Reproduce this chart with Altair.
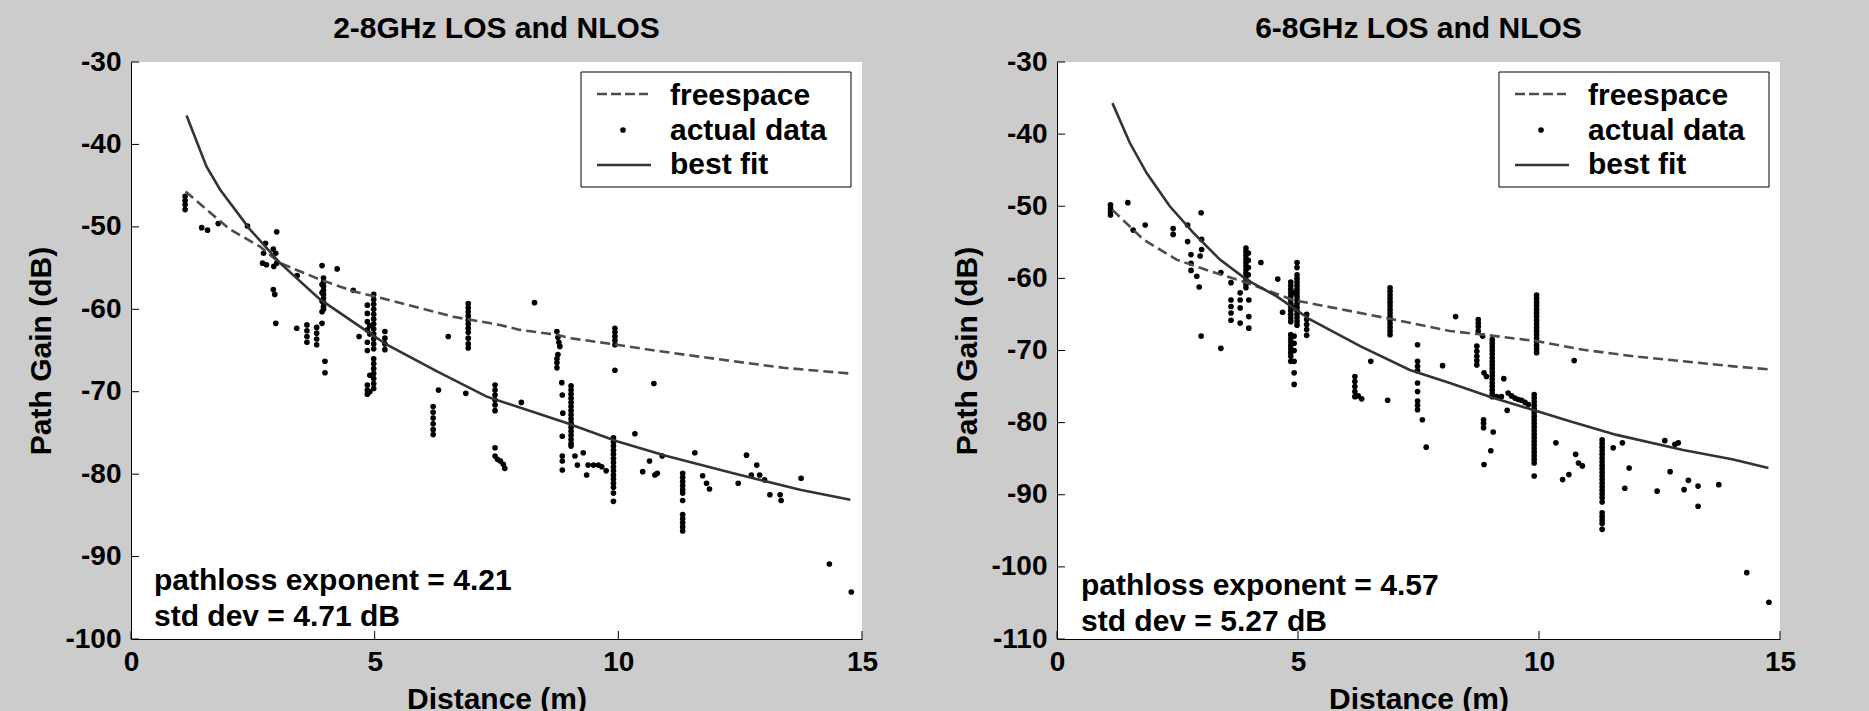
import altair as alt
import pandas as pd

FONT = "Liberation Sans"
BG = "#cccccc"

TITLES = ["2-8GHz LOS and NLOS", "6-8GHz LOS and NLOS"]
X_TITLE = "Distance (m)"
Y_TITLE = "Path Gain (dB)"
X_TICKS = [0, 5, 10, 15]
L_Y_TICKS = [-30, -40, -50, -60, -70, -80, -90, -100]
R_Y_TICKS = [-30, -40, -50, -60, -70, -80, -90, -100, -110]
LEGEND_LABELS = ["freespace", "actual data", "best fit"]
L_NOTES = ["pathloss exponent = 4.21", "std dev = 4.71 dB"]
R_NOTES = ["pathloss exponent = 4.57", "std dev = 5.27 dB"]

# ---- left panel (2-8 GHz) ----
L_FS_X = [1.12, 1.55, 2.03, 2.65, 3.06, 3.88, 4.56, 4.97, 6.61, 7.57, 7.98, 8.74, 9.01, 9.97, 10.86, 12.36, 13.39, 14.76]
L_FS_Y = [-45.7, -47.9, -50.3, -52.4, -54.4, -56.4, -57.8, -58.4, -60.9, -61.9, -62.5, -63.1, -63.5, -64.3, -65.1, -66.3, -67.1, -67.8]
L_BF_X = [1.14, 1.55, 1.83, 2.44, 3.06, 3.88, 4.70, 5.25, 6.27, 7.30, 8.94, 9.97, 10.99, 12.36, 13.73, 14.76]
L_BF_Y = [-36.5, -42.7, -45.5, -50.3, -54.4, -58.8, -62.1, -64.3, -67.5, -70.6, -73.8, -76.0, -77.8, -79.9, -81.9, -83.1]
L_POINTS = [
    (1.11, -46.3), (1.11, -46.8), (1.11, -47.3), (1.11, -47.9),
    (1.45, -50.1), (1.57, -50.4), (1.79, -49.6), (2.39, -49.9),
    (2.76, -52.0), (2.72, -53.2), (2.70, -54.4), (2.78, -54.6), (2.92, -52.7), (2.97, -53.2),
    (2.99, -50.6), (2.93, -54.8), (2.99, -54.4), (2.92, -57.6), (2.95, -58.2), (2.97, -61.7),
    (3.40, -62.3), (3.41, -55.9),
    (3.61, -61.9), (3.61, -62.6), (3.61, -63.3), (3.61, -64.0),
    (3.81, -62.2), (3.81, -62.9), (3.81, -63.6), (3.81, -64.3),
    (3.92, -54.7), (3.95, -56.2), (3.95, -56.7), (3.95, -57.2), (3.95, -57.7), (3.95, -58.2),
    (3.95, -58.7), (3.95, -59.2), (3.95, -59.7), (3.95, -60.0), (3.92, -61.7), (3.98, -66.3),
    (3.98, -67.7), (3.92, -57.0), (3.92, -58.0), (3.92, -59.0), (3.92, -60.3),
    (4.23, -55.1), (4.56, -57.7), (4.68, -63.3),
    (4.98, -58.2), (4.98, -58.8), (4.98, -59.4), (4.98, -60.0), (4.98, -60.6), (4.98, -61.2),
    (4.98, -61.8), (4.98, -62.4), (4.98, -63.0), (4.98, -63.6), (4.98, -64.2), (4.98, -64.8),
    (4.98, -66.0), (4.98, -66.6), (4.98, -67.2), (4.98, -67.8), (4.98, -68.4), (4.98, -69.0),
    (4.98, -69.6),
    (4.85, -59.5), (4.85, -60.5), (4.85, -61.5), (4.85, -62.5), (4.85, -64.0), (4.85, -65.0),
    (4.85, -69.2), (4.85, -69.8), (4.85, -70.3),
    (4.90, -62.0), (4.90, -63.0), (4.90, -68.0), (4.90, -70.0),
    (5.21, -62.7), (5.21, -63.5), (5.21, -64.2), (5.21, -64.9),
    (6.31, -69.8),
    (6.20, -71.8), (6.20, -72.5), (6.20, -73.2), (6.20, -73.9), (6.20, -74.6), (6.20, -75.2),
    (6.51, -63.3), (6.87, -70.2),
    (6.92, -59.3), (6.92, -59.8), (6.92, -60.3), (6.92, -60.8), (6.92, -61.3), (6.92, -61.8),
    (6.92, -62.3), (6.92, -62.8), (6.92, -63.5), (6.92, -64.2), (6.92, -64.7),
    (7.47, -69.2), (7.47, -69.8), (7.47, -70.4), (7.47, -71.0), (7.47, -71.6), (7.47, -72.3),
    (7.47, -76.8), (7.47, -77.8), (7.52, -78.2), (7.58, -78.4), (7.64, -78.8), (7.67, -79.3),
    (8.01, -71.3), (8.28, -59.2),
    (8.74, -62.7), (8.76, -63.4), (8.78, -64.0), (8.80, -64.5), (8.76, -65.5), (8.74, -66.0),
    (8.74, -66.5), (8.74, -67.1),
    (8.84, -68.9), (8.85, -70.4), (8.86, -72.6), (8.85, -75.4), (8.85, -77.8), (8.85, -78.4),
    (8.85, -79.5),
    (9.03, -69.3), (9.03, -69.8), (9.03, -70.3), (9.03, -70.8), (9.03, -71.3), (9.03, -71.8),
    (9.03, -72.3), (9.03, -72.8), (9.03, -73.3), (9.03, -73.8), (9.03, -74.3), (9.03, -74.8),
    (9.03, -75.3), (9.03, -75.8), (9.03, -76.3), (9.03, -76.6),
    (9.11, -77.8), (9.16, -78.9), (9.28, -77.4), (9.35, -80.1), (9.38, -78.9), (9.49, -78.9),
    (9.59, -78.9), (9.66, -79.1), (9.75, -79.6),
    (9.93, -62.3), (9.93, -62.8), (9.93, -63.3), (9.93, -63.8), (9.93, -64.3), (9.93, -67.4),
    (9.90, -75.6), (9.90, -76.1), (9.90, -76.6), (9.90, -77.1), (9.90, -77.6), (9.90, -78.1),
    (9.90, -78.6), (9.90, -79.1), (9.90, -79.6), (9.90, -80.1), (9.90, -80.6), (9.90, -81.1),
    (9.90, -81.6), (9.90, -82.3), (9.90, -83.3),
    (10.34, -75.1), (10.50, -79.7), (10.64, -78.4), (10.73, -69.0), (10.75, -80.1), (10.80, -79.9),
    (10.90, -77.8),
    (11.32, -79.9), (11.32, -80.4), (11.32, -80.9), (11.32, -81.4), (11.32, -81.9), (11.32, -82.3),
    (11.32, -83.2), (11.32, -84.9), (11.32, -85.4), (11.32, -85.9), (11.32, -86.4), (11.32, -86.9),
    (11.57, -77.4), (11.73, -80.2), (11.81, -81.1), (11.87, -81.8),
    (12.46, -81.1), (12.63, -77.7), (12.73, -80.1), (12.84, -78.9), (12.90, -80.1), (13.00, -80.7),
    (13.11, -82.5), (13.32, -82.5), (13.34, -83.2), (13.75, -80.5), (14.33, -90.9), (14.78, -94.3),
]

# ---- right panel (6-8 GHz) ----
R_FS_X = [1.15, 1.79, 2.48, 3.17, 3.94, 4.90, 5.60, 6.98, 8.15, 8.85, 9.95, 10.92, 11.96, 12.99, 14.03, 14.76]
R_FS_Y = [-50.5, -54.6, -57.4, -59.0, -60.6, -63.0, -63.9, -65.7, -67.3, -67.8, -68.7, -69.9, -70.8, -71.5, -72.2, -72.6]
R_BF_X = [1.15, 1.51, 1.86, 2.34, 2.83, 3.38, 3.94, 4.56, 5.25, 6.29, 7.32, 8.15, 8.98, 9.95, 10.64, 11.61, 12.99, 14.03, 14.76]
R_BF_Y = [-35.7, -41.2, -45.4, -50.0, -53.7, -57.4, -60.2, -62.5, -65.7, -69.4, -72.7, -74.5, -76.4, -78.4, -79.8, -81.7, -83.8, -85.1, -86.3]
R_POINTS = [
    (1.11, -49.8), (1.11, -50.3), (1.11, -50.8), (1.11, -51.2),
    (1.47, -49.5), (1.58, -53.3), (1.83, -52.6), (2.41, -53.1), (2.41, -53.9), (2.71, -54.9),
    (2.71, -52.6), (2.99, -50.9),
    (2.78, -56.7), (2.78, -57.9), (2.78, -58.9), (2.90, -59.7), (2.95, -61.2), (3.00, -56.0),
    (2.97, -56.9), (3.00, -54.6), (2.99, -68.0),
    (3.40, -69.7), (3.40, -59.2),
    (3.61, -60.6), (3.61, -63.0), (3.61, -63.9), (3.61, -64.8), (3.61, -65.8),
    (3.80, -62.0), (3.80, -63.0), (3.80, -64.1), (3.80, -66.2),
    (3.92, -55.8), (3.92, -56.3), (3.92, -56.8), (3.92, -57.3), (3.92, -57.8), (3.92, -58.3),
    (3.92, -58.8), (3.92, -59.3), (3.92, -59.8), (3.92, -60.3), (3.92, -60.8), (3.92, -61.3),
    (3.97, -56.5), (3.97, -57.5), (3.97, -58.5), (3.97, -59.5), (3.97, -60.5),
    (3.98, -63.0), (3.98, -65.3), (3.98, -66.9),
    (4.23, -57.8), (4.58, -60.1), (4.68, -64.7),
    (4.98, -57.8), (4.98, -58.5), (4.98, -59.5), (4.98, -60.0), (4.98, -60.5), (4.98, -61.0),
    (4.98, -61.5), (4.98, -62.0), (4.98, -62.5), (4.98, -63.0), (4.98, -63.5), (4.98, -64.0),
    (4.98, -64.5), (4.98, -65.0), (4.98, -65.5), (4.98, -66.0), (4.98, -66.5),
    (4.85, -60.5), (4.85, -61.0), (4.85, -61.5), (4.85, -62.0), (4.85, -62.5), (4.85, -63.0),
    (4.85, -63.5), (4.85, -64.0), (4.85, -64.5), (4.85, -65.0), (4.85, -65.5), (4.85, -66.0),
    (4.85, -67.8), (4.85, -68.3), (4.85, -68.8), (4.85, -69.3), (4.85, -69.8), (4.85, -70.3),
    (4.85, -70.8), (4.85, -71.5),
    (4.92, -62.0), (4.92, -64.0), (4.92, -68.0), (4.92, -69.0), (4.92, -70.0), (4.92, -71.5),
    (4.92, -73.1), (4.92, -74.7),
    (5.18, -65.0), (5.18, -65.7), (5.18, -66.4), (5.18, -67.1), (5.18, -67.9),
    (6.18, -73.6), (6.18, -74.3), (6.18, -75.0), (6.18, -75.7), (6.18, -76.4), (6.25, -76.3),
    (6.32, -76.7),
    (6.51, -71.5), (6.86, -76.9),
    (6.91, -61.3), (6.91, -61.8), (6.91, -62.3), (6.91, -62.8), (6.91, -63.3), (6.91, -63.8),
    (6.91, -64.3), (6.91, -64.8), (6.91, -65.3), (6.91, -65.8), (6.91, -66.3), (6.91, -66.8),
    (6.91, -67.3), (6.91, -67.8),
    (7.48, -69.2), (7.48, -71.5), (7.48, -72.2), (7.48, -72.8), (7.48, -74.5), (7.48, -75.7),
    (7.48, -77.0), (7.48, -77.6), (7.48, -78.2),
    (7.58, -79.6), (7.66, -83.4), (8.00, -72.1), (8.27, -65.3),
    (8.74, -65.7), (8.74, -66.2), (8.74, -66.7), (8.74, -67.3),
    (8.71, -69.4), (8.71, -70.1), (8.71, -70.8), (8.71, -71.4), (8.71, -72.0),
    (8.83, -68.0), (8.86, -73.1), (8.91, -73.6),
    (9.03, -68.5), (9.03, -69.0), (9.03, -69.5), (9.03, -70.0), (9.03, -70.5), (9.03, -71.0),
    (9.03, -71.5), (9.03, -72.0), (9.03, -72.5), (9.03, -73.0), (9.03, -73.5), (9.03, -74.0),
    (9.03, -74.5), (9.03, -75.0), (9.03, -75.5), (9.03, -76.0), (9.03, -76.4),
    (8.85, -79.6), (8.85, -80.1), (8.85, -80.7), (9.05, -81.3), (9.00, -83.9), (8.86, -85.8),
    (9.12, -76.4), (9.22, -76.4), (9.27, -73.9), (9.34, -78.3),
    (9.36, -75.9), (9.43, -76.3), (9.50, -76.6), (9.57, -76.8), (9.64, -76.9), (9.71, -77.2),
    (9.78, -77.5),
    (9.90, -76.1), (9.90, -76.6), (9.90, -77.1), (9.90, -77.6), (9.90, -78.1), (9.90, -78.6),
    (9.90, -79.1), (9.90, -79.6), (9.90, -80.1), (9.90, -80.6), (9.90, -81.1), (9.90, -81.6),
    (9.90, -82.1), (9.90, -82.6), (9.90, -83.1), (9.90, -83.6), (9.90, -84.1), (9.90, -84.6),
    (9.90, -85.1), (9.90, -85.6), (9.90, -87.4),
    (9.95, -62.3), (9.95, -62.8), (9.95, -63.3), (9.95, -63.8), (9.95, -64.3), (9.95, -64.8),
    (9.95, -65.3), (9.95, -65.8), (9.95, -66.3), (9.95, -66.8), (9.95, -67.3), (9.95, -67.8),
    (9.95, -68.3), (9.95, -68.8), (9.95, -69.3), (9.95, -69.8), (9.95, -70.3),
    (10.35, -82.8), (10.49, -87.9), (10.62, -87.2), (10.73, -71.4), (10.76, -84.4), (10.82, -85.6),
    (10.90, -86.0),
    (11.31, -82.4), (11.31, -82.9), (11.31, -83.4), (11.31, -83.9), (11.31, -84.4), (11.31, -84.9),
    (11.31, -85.4), (11.31, -85.9), (11.31, -86.4), (11.31, -86.9), (11.31, -87.4), (11.31, -87.9),
    (11.31, -88.4), (11.31, -88.9), (11.31, -89.4), (11.31, -89.9), (11.31, -90.4), (11.31, -91.0),
    (11.31, -92.5), (11.31, -93.0), (11.31, -93.5), (11.31, -94.0), (11.31, -94.8),
    (11.54, -83.5), (11.73, -82.8), (11.87, -86.3), (11.78, -89.1), (12.45, -89.5),
    (12.61, -82.5), (12.82, -83.0), (12.89, -82.8), (12.72, -86.8), (13.01, -89.3), (13.10, -88.0),
    (13.30, -88.8), (13.30, -91.6), (13.73, -88.6), (14.31, -100.8), (14.77, -104.9),
]

ONE = pd.DataFrame({"k": [0]})
TXT = dict(font=FONT, fontSize=30, fontWeight="bold", color="black")
DOT = 32


def panel(title, pts, fs_x, fs_y, bf_x, bf_y, y_ticks, notes, note_pos, width, height):
    xs = alt.Scale(domain=[0, 15], nice=False, zero=False)
    ys = alt.Scale(domain=[y_ticks[-1], y_ticks[0]], nice=False, zero=False)
    x_axis = alt.Axis(values=X_TICKS, title=X_TITLE, labelFlush=False, labelPadding=9,
                      labelExpr="'' + datum.value",
                      titleY=69, titleBaseline="alphabetic")
    y_axis = alt.Axis(values=y_ticks, title=Y_TITLE, labelPadding=10,
                      labelExpr="'' + datum.value",
                      titleX=-81, titleBaseline="alphabetic")

    pdf = pd.DataFrame(pts, columns=["x", "y"])
    points = alt.Chart(pdf).mark_circle(size=DOT, color="black", opacity=1).encode(
        x=alt.X("x:Q", scale=xs, axis=x_axis),
        y=alt.Y("y:Q", scale=ys, axis=y_axis),
    )
    fs = alt.Chart(pd.DataFrame({"x": fs_x, "y": fs_y})).mark_line(
        color="#4d4d4d", strokeWidth=2.6, strokeDash=[10, 5]
    ).encode(x=alt.X("x:Q", scale=xs), y=alt.Y("y:Q", scale=ys))
    bf = alt.Chart(pd.DataFrame({"x": bf_x, "y": bf_y})).mark_line(
        color="#333333", strokeWidth=2.6
    ).encode(x=alt.X("x:Q", scale=xs), y=alt.Y("y:Q", scale=ys))

    yt = alt.Chart(pd.DataFrame({"y": y_ticks})).mark_rule(color="black", strokeWidth=1).encode(
        y=alt.Y("y:Q", scale=ys), x=alt.value(0), x2=alt.value(8))
    xt = alt.Chart(pd.DataFrame({"x": X_TICKS})).mark_rule(color="black", strokeWidth=1).encode(
        x=alt.X("x:Q", scale=xs), y=alt.value(height), y2=alt.value(height - 8))

    lx = width - 281
    box = alt.Chart(ONE).mark_rect(fill="white", stroke="black", strokeWidth=1).encode(
        x=alt.value(lx), x2=alt.value(lx + 270), y=alt.value(10), y2=alt.value(125))
    l_dash = alt.Chart(ONE).mark_rule(color="#4d4d4d", strokeWidth=2.6, strokeDash=[10, 4]).encode(
        x=alt.value(lx + 16), x2=alt.value(lx + 67), y=alt.value(32))
    l_dot = alt.Chart(ONE).mark_circle(size=DOT, color="black", opacity=1).encode(
        x=alt.value(lx + 42), y=alt.value(68))
    l_solid = alt.Chart(ONE).mark_rule(color="#333333", strokeWidth=2.6).encode(
        x=alt.value(lx + 16), x2=alt.value(lx + 70), y=alt.value(103))
    l_texts = [
        alt.Chart(ONE).mark_text(align="left", baseline="middle", **TXT).encode(
            x=alt.value(lx + 89), y=alt.value(yy), text=alt.value(lab))
        for lab, yy in zip(LEGEND_LABELS, [34, 69, 103])
    ]
    n_texts = [
        alt.Chart(ONE).mark_text(align="left", baseline="middle", **TXT).encode(
            x=alt.value(note_pos[0]), y=alt.value(yy), text=alt.value(t))
        for t, yy in zip(notes, note_pos[1:])
    ]

    return alt.layer(points, fs, bf, yt, xt, box, l_dash, l_dot, l_solid, *l_texts, *n_texts).properties(
        width=width, height=height,
        title=alt.TitleParams(text=title, fontSize=30, font=FONT, fontWeight="bold", color="black",
                              offset=-20, baseline="alphabetic", anchor="middle"),
    )


left = panel(TITLES[0], L_POINTS, L_FS_X, L_FS_Y, L_BF_X, L_BF_Y, L_Y_TICKS, L_NOTES,
             (23, 519, 555), 731, 577)
right = panel(TITLES[1], R_POINTS, R_FS_X, R_FS_Y, R_BF_X, R_BF_Y, R_Y_TICKS, R_NOTES,
              (24, 524, 560), 723, 577)

chart = alt.hconcat(left, right, spacing=195, bounds="flush").configure(
    background=BG,
    padding={"left": 26, "top": 14, "right": 73, "bottom": 0},
).configure_view(fill="white", stroke=None).configure_axis(
    labelFont=FONT, labelFontSize=28, labelFontWeight="bold", labelColor="black",
    titleFont=FONT, titleFontSize=30, titleFontWeight="bold", titleColor="black",
    domainColor="black", domainWidth=1, ticks=False, tickSize=0, grid=False,
)

chart.save("out.html", embed_options={"renderer": "svg", "actions": False})
